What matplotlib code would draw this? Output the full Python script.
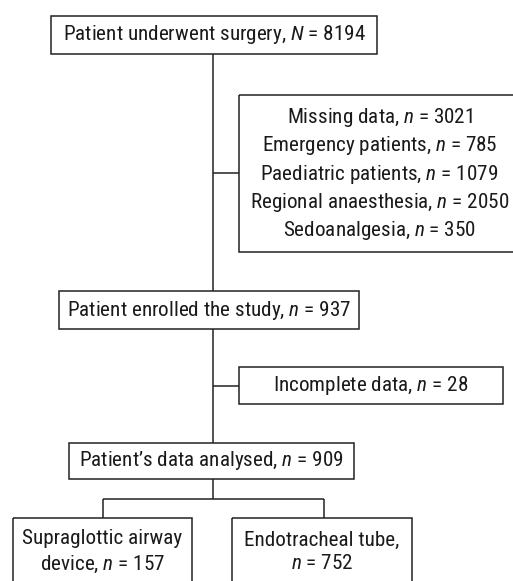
import matplotlib
matplotlib.use("Agg")
import matplotlib.pyplot as plt
from matplotlib import font_manager as fm
from matplotlib.patches import Rectangle

names = {f.name for f in fm.fontManager.ttflist}
FONT = next((f for f in ["Roboto Condensed", "PT Sans Narrow", "Archivo Narrow", "Roboto"]
             if f in names), "DejaVu Sans")
plt.rcParams["font.family"] = [FONT, "DejaVu Sans"]
plt.rcParams["mathtext.fontset"] = "custom"
plt.rcParams["mathtext.rm"] = FONT
plt.rcParams["mathtext.it"] = FONT + ":italic"

# flow counts
total_label = "Patient underwent surgery"
total_n = 8194
excl_labels = ["Missing data", "Emergency patients", "Paediatric patients",
               "Regional anaesthesia", "Sedoanalgesia"]
excl_n = [3021, 785, 1079, 2050, 350]
enrolled_n = 937
incomplete_n = 28
analysed_n = 909
group_labels = ["Supraglottic airway\ndevice", "Endotracheal tube,\n"]
group_n = [157, 752]

W, H = 513, 581
fig = plt.figure(figsize=(W / 100, H / 100), dpi=100)
ax = fig.add_axes([0, 0, 1, 1])
ax.set_xlim(0, W); ax.set_ylim(H, 0); ax.axis("off")

LW = 1.1
FS = 15.2


def box(x0, y0, x1, y1, text, ls=1.3, ty=None):
    ax.add_patch(Rectangle((x0, y0), x1 - x0, y1 - y0, fill=False,
                           ec="#222222", lw=LW, clip_on=True))
    ty = (y0 + y1) / 2 if ty is None else ty
    ax.text((x0 + x1) / 2, ty, text, ha="center", va="center",
            fontsize=FS, linespacing=ls, color="#1a1a1a")


def line(xs, ys):
    ax.plot(xs, ys, color="#222222", lw=LW, solid_capstyle="butt")


box(51, 16, 377, 54, f"{total_label}, $N$ = {total_n}")
excl_text = "\n".join(f"{l}, $n$ = {v}" for l, v in zip(excl_labels, excl_n))
box(239, 95, 520, 252, excl_text, ty=174)
box(59, 291, 359, 329, f"Patient enrolled the study, $n$ = {enrolled_n}")
box(239, 367, 503, 404, f"Incomplete data, $n$ = {incomplete_n}")
box(69, 443, 354, 479, f"Patient\u2019s data analysed, $n$ = {analysed_n}")
box(13, 518, 192, 600, f"{group_labels[0]}, $n$ = {group_n[0]}", ty=552)
box(232, 518, 412, 600, f"{group_labels[1]}$n$ = {group_n[1]}", ty=552)

# connectors
line([213, 213], [54, 291])
line([213, 239], [173, 173])
line([213, 213], [329, 443])
line([213, 239], [386, 386])
line([213, 213], [479, 499])
line([103, 324], [499, 499])
line([103, 103], [499, 518])
line([324, 324], [499, 518])

fig.savefig("out.png", dpi=100)
